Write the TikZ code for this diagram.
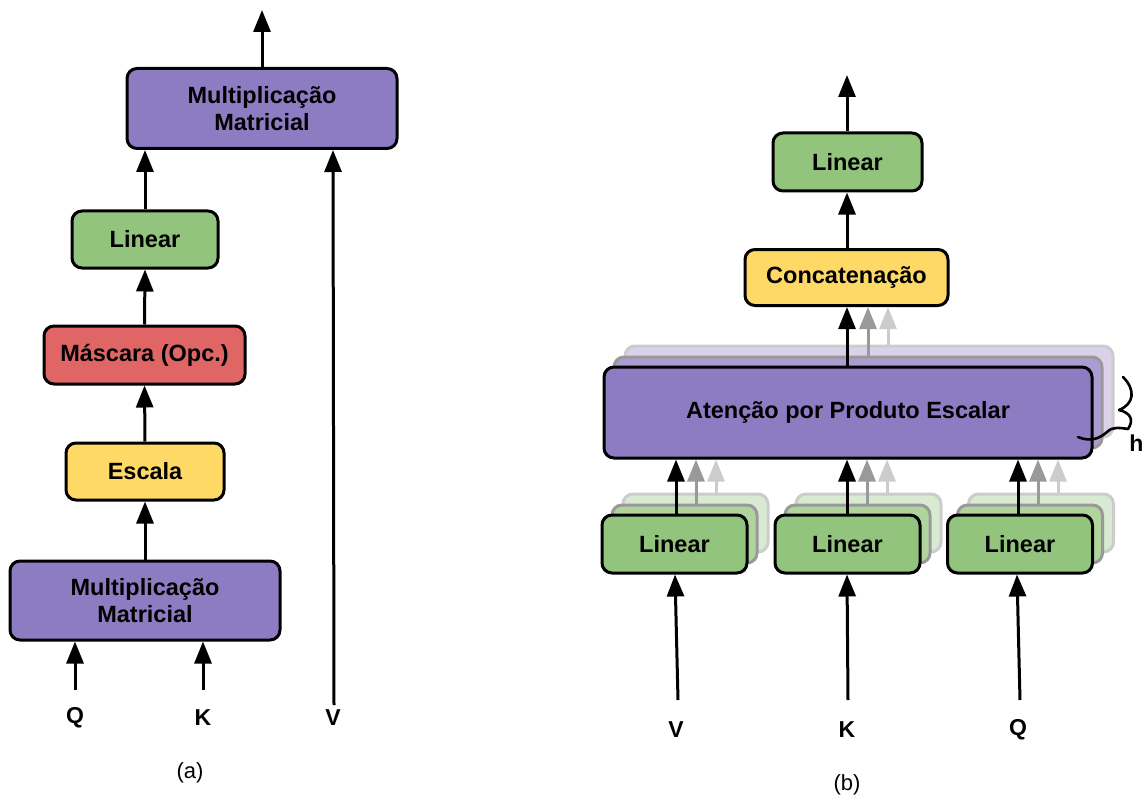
\documentclass[tikz,border=0pt]{standalone}
\usepackage{fontspec}
\setmainfont{Liberation Sans}
\usetikzlibrary{arrows.meta}
\definecolor{purp}{HTML}{8E7CC3}
\definecolor{purpB}{HTML}{AB9DD3}
\definecolor{purpC}{HTML}{D9D2E9}
\definecolor{grn}{HTML}{93C47D}
\definecolor{grnB}{HTML}{B0D59C}
\definecolor{grnC}{HTML}{D9EAD3}
\definecolor{redd}{HTML}{E06666}
\definecolor{yel}{HTML}{FFD966}
\definecolor{gB}{HTML}{999999}
\definecolor{gC}{HTML}{CCCCCC}
\tikzset{
  box/.style={draw, line width=3pt, rounded corners=10pt, align=center,
    inner sep=0pt, font=\fontsize{23.5}{27}\selectfont\bfseries},
  boxB/.style={box, draw=gB},
  boxC/.style={box, draw=gC},
  arr/.style={line width=3pt, -{Triangle[width=17pt,length=22pt]}},
  arrB/.style={arr, draw=gB, fill=gB},
  arrC/.style={arr, draw=gC, fill=gC},
  lbl/.style={font=\fontsize{23}{27}\selectfont\bfseries, inner sep=0pt},
  captxt/.style={font=\fontsize{22}{26}\selectfont, inner sep=0pt},
}
\begin{document}
\begin{tikzpicture}[x=1pt,y=-1pt]
\useasboundingbox (0,0) rectangle (1144,797);
% ---------------- (a) ----------------
\node[box, fill=purp, minimum width=270pt, minimum height=80pt] (mmT) at (262,108.5) {Multiplicação\\Matricial};
\node[box, fill=grn, minimum width=146pt, minimum height=57pt] (linL) at (145,239.5) {Linear};
\node[box, fill=redd, minimum width=201pt, minimum height=58pt] (mask) at (144.5,355) {Máscara (Opc.)};
\node[box, fill=yel, minimum width=158pt, minimum height=57pt] (esc) at (145,471.5) {Escala};
\node[box, fill=purp, minimum width=270pt, minimum height=79pt] (mmB) at (145,600.5) {Multiplicação\\Matricial};
\coordinate (outA) at (262,10);
\draw[arr] (mmT.north) -- (outA);
\draw[arr] (linL.north) -- (mmT.south -| linL.north);
\draw[arr] (mask.north) -- (linL.south);
\draw[arr] (esc.north) -- (mask.south);
\draw[arr] (mmB.north) -- (esc.south);
\node[lbl] (Qa) at (75,718) {Q};
\node[lbl] (Ka) at (203,718) {K};
\node[lbl] (Va) at (333,718) {V};
\coordinate (qa) at (75,690);
\coordinate (ka) at (203,690);
\coordinate (va) at (334,705);
\coordinate (vt) at (333,0);
\draw[arr] (qa) -- (qa |- mmB.south);
\draw[arr] (ka) -- (ka |- mmB.south);
\draw[arr] (va) -- (vt |- mmT.south);
\node[captxt] (capa) at (190,773) {(a)};
% ---------------- (b) ----------------
\node[box, fill=grn, minimum width=149pt, minimum height=58pt] (lin4) at (847.5,162) {Linear};
\node[box, fill=yel, minimum width=203pt, minimum height=56pt] (concat) at (846.5,277.5) {Concatenação};
\node[boxC, fill=purpC, minimum width=488pt, minimum height=91pt] (att3) at (869,391.5) {};
\node[boxB, fill=purpB, minimum width=488pt, minimum height=91pt] (att2) at (858,402.5) {};
\node[box, fill=purp, minimum width=488pt, minimum height=91pt] (att) at (848,412.5) {Atenção por Produto Escalar};
\foreach \n/\c in {L1/674.5, L2/847.5, L3/1020}{
  \node[boxC, fill=grnC, minimum width=145pt, minimum height=58pt] (\n c) at (\c+21,523) {};
  \node[boxB, fill=grnB, minimum width=145pt, minimum height=58pt] (\n b) at (\c+10,534) {};
  \node[box, fill=grn, minimum width=145pt, minimum height=58pt] (\n) at (\c,544) {Linear};
}
\coordinate (outB) at (847,75);
\draw[arr] (lin4.north -| outB) -- (outB);
\draw[arr] (concat.north -| outB) -- (lin4.south -| outB);
% attention -> concat
\coordinate (c0) at (847,0);
\coordinate (c1) at (868,0);
\coordinate (c2) at (888,0);
\draw[arrC] (att3.north -| c2) -- (concat.south -| c2);
\draw[arrB] (att2.north -| c1) -- (concat.south -| c1);
\draw[arr] (att.north -| c0) -- (concat.south -| c0);
% linear -> attention
\foreach \n/\x in {L1/676, L2/847, L3/1018}{
  \coordinate (\n x0) at (\x,0);
  \coordinate (\n x1) at (\x+20,0);
  \coordinate (\n x2) at (\x+40,0);
  \draw[arrC] (\n c.north -| \n x2) -- (att.south -| \n x2);
  \draw[arrB] (\n b.north -| \n x1) -- (att.south -| \n x1);
  \draw[arr] (\n.north -| \n x0) -- (att.south -| \n x0);
}
% inputs
\node[lbl] (Vb) at (676,730) {V};
\node[lbl] (Kb) at (847,730) {K};
\node[lbl] (Qb) at (1018,730) {Q};
\coordinate (vb0) at (678,700);
\coordinate (vb1) at (675,0);
\coordinate (kb0) at (848,700);
\coordinate (kb1) at (847,0);
\coordinate (qb0) at (1020,700);
\coordinate (qb1) at (1017,0);
\draw[arr] (vb0) -- (L1.south -| vb1);
\draw[arr] (kb0) -- (L2.south -| kb1);
\draw[arr] (qb0) -- (L3.south -| qb1);
% brace for h
\coordinate (br0) at (1078,437);
\draw[line width=2.6pt, line cap=round, line join=round] (br0) .. controls (1090,442) and (1099,439) .. (1107,432)
  .. controls (1113,426) and (1121,428) .. (1128,429)
  .. controls (1134,420) and (1131,413) .. (1119,410)
  .. controls (1134,404) and (1136,390) .. (1123,377);
\node[lbl, anchor=east] (hb) at (1143.5,443) {h};
\node[captxt] (capb) at (847,785) {(b)};
\end{tikzpicture}
\end{document}
